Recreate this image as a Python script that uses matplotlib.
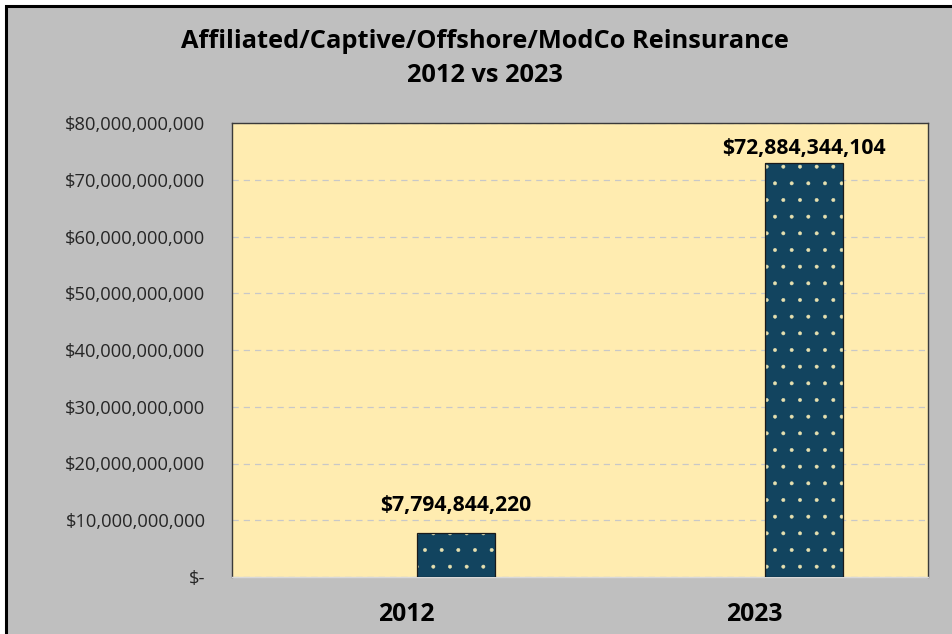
import matplotlib
matplotlib.use("Agg")
import matplotlib.pyplot as plt
from matplotlib.patches import Rectangle
from matplotlib.ticker import FuncFormatter, MultipleLocator

plt.rcParams['font.family'] = ['Open Sans', 'DejaVu Sans']
plt.rcParams['hatch.linewidth'] = 0.35

years = ["2012", "2023"]
values = [7794844220, 72884344104]
title_lines = ["Affiliated/Captive/Offshore/ModCo Reinsurance", "2012 vs 2023"]

bar_color = "#12445f"
dot_color = "#e6e0b0"
plot_bg = "#ffecb0"
fig_bg = "#bfbfbf"

fig = plt.figure(figsize=(9.52, 6.34), dpi=100)
fig.patch.set_facecolor("white")
# chart frame (extends beyond the image on right/bottom)
fig.patches.append(Rectangle((6/952, -0.05), 1.1, 1 - 6/634 + 0.05, transform=fig.transFigure,
                             facecolor=fig_bg, edgecolor="black", linewidth=2.2, zorder=-10))

ax = fig.add_axes([232/952, 1 - 577/634, 696/952, (577 - 123)/634])
ax.set_zorder(1)
ax.set_facecolor(plot_bg)

x = list(range(len(years)))
width = 0.224
ax.bar(x, values, width=width, color=bar_color, edgecolor=dot_color, linewidth=0,
       hatch=".", zorder=3)
ax.bar(x, values, width=width, fill=False, edgecolor="#1a1a1a", linewidth=0.9, zorder=4)

ax.set_ylim(0, 80e9)
ax.set_xlim(-0.644, 1.356)
ax.yaxis.set_major_locator(MultipleLocator(10e9))

def fmt(v, pos):
    if v == 0:
        return "$-"
    return "${:,.0f}".format(v)

ax.yaxis.set_major_formatter(FuncFormatter(fmt))
ax.grid(axis="y", color="#c8c8c8", linestyle=(0, (5, 4)), linewidth=0.9, zorder=1)
ax.set_axisbelow(True)

ax.set_xticks([i - 0.144 for i in x])
ax.set_xticklabels(years, fontsize=17.8, fontweight="bold")
ax.tick_params(axis="x", length=0, pad=18)
ax.tick_params(axis="y", length=0, pad=19, labelsize=13.2, labelcolor="#262626")

for side in ["left", "top", "right"]:
    ax.spines[side].set_color("#3a3a3a")
    ax.spines[side].set_linewidth(1.0)
ax.spines["bottom"].set_color("#d9d9d9")
ax.spines["bottom"].set_linewidth(1.0)

offsets = [12, 3]
for xi, v, off in zip(x, values, offsets):
    ax.annotate("${:,.0f}".format(v), (xi, v), xytext=(0, off), textcoords="offset points",
                ha="center", va="bottom", fontsize=15.2, fontweight="bold", zorder=5)

fig.text(485/952, 1 - 42/634, title_lines[0], ha="center", va="center",
         fontsize=18.3, fontweight="bold")
fig.text(485/952, 1 - 76/634, title_lines[1], ha="center", va="center",
         fontsize=18.3, fontweight="bold")

fig.savefig("out.png", dpi=100)
